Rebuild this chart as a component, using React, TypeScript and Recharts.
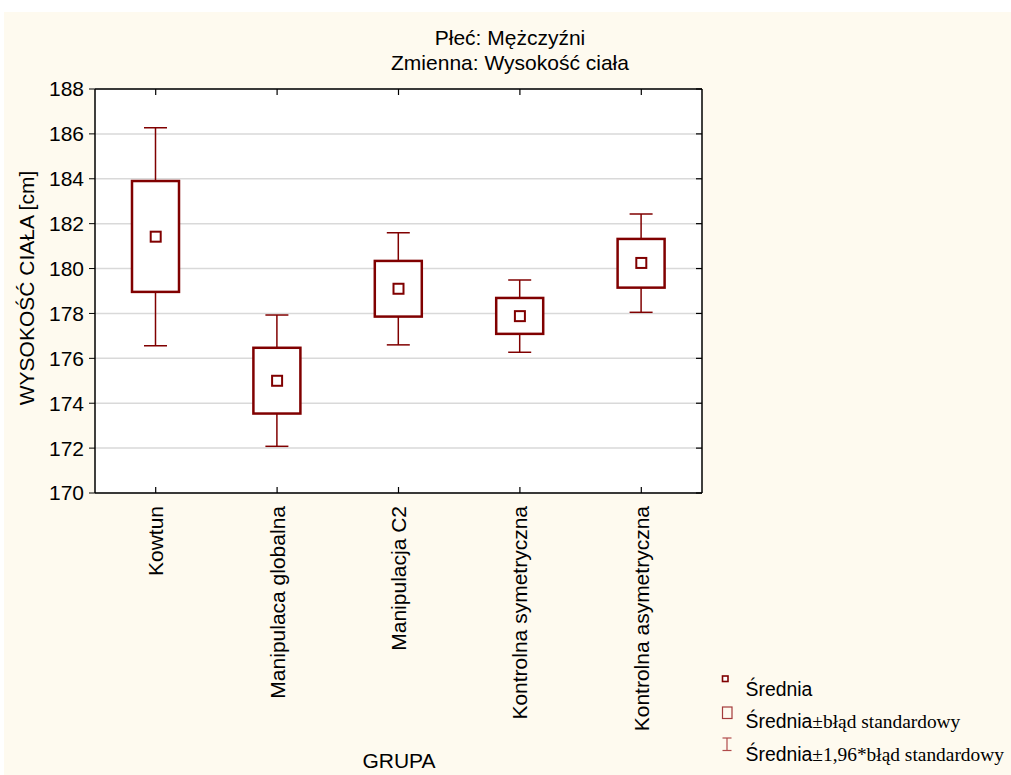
import React from "react";
import {
  ComposedChart,
  Bar,
  Scatter,
  XAxis,
  YAxis,
  CartesianGrid,
} from "recharts";

const categories = [
  "Kowtun",
  "Manipulaca globalna",
  "Manipulacja C2",
  "Kontrolna symetryczna",
  "Kontrolna asymetryczna",
];
const means = [181.42, 175.0, 179.1, 177.88, 180.25];
const seLow = [178.96, 173.54, 177.86, 177.09, 179.15];
const seHigh = [183.9, 176.47, 180.34, 178.69, 181.32];
const ciLow = [176.56, 172.08, 176.6, 176.27, 178.05];
const ciHigh = [186.27, 177.93, 181.6, 179.49, 182.43];
const yTicks = [170, 172, 174, 176, 178, 180, 182, 184, 186, 188];

const titleLines = ["Płeć: Mężczyźni", "Zmienna: Wysokość ciała"];
const yTitle = "WYSOKOŚĆ CIAŁA [cm]";
const xTitle = "GRUPA";

const data = categories.map((name, i) => ({
  name,
  mean: means[i],
  seLow: seLow[i],
  seHigh: seHigh[i],
  ciLow: ciLow[i],
  ciHigh: ciHigh[i],
  range: [ciLow[i], ciHigh[i]],
}));

const RED = "#800000";
const SANS = "'Liberation Sans', Arial, sans-serif";
const SERIF = "'Liberation Serif', 'Times New Roman', serif";
const CREAM = "#FEFAEF";

const BoxShape = (props: any) => {
  const { x, y, width, height, payload } = props;
  if (x == null || y == null || !payload) return null;
  const top = Math.min(y, y + height);
  const bottom = Math.max(y, y + height);
  const hi = payload.ciHigh;
  const lo = payload.ciLow;
  const px = (v: number) => top + ((hi - v) / (hi - lo)) * (bottom - top);
  const cx = x + width / 2;
  const capHalf = 11.5;
  const bTop = px(payload.seHigh);
  const bBot = px(payload.seLow);
  return (
    <g>
      <line x1={cx} x2={cx} y1={top} y2={bottom} stroke={RED} strokeWidth={1.5} />
      <line x1={cx - capHalf} x2={cx + capHalf} y1={top} y2={top} stroke={RED} strokeWidth={1.5} />
      <line x1={cx - capHalf} x2={cx + capHalf} y1={bottom} y2={bottom} stroke={RED} strokeWidth={1.5} />
      <rect
        x={x}
        y={bTop}
        width={width}
        height={bBot - bTop}
        fill="#ffffff"
        stroke={RED}
        strokeWidth={2.5}
      />
    </g>
  );
};

const MeanShape = (props: any) => {
  const { cx, cy } = props;
  if (cx == null || cy == null) return null;
  const s = 10;
  return (
    <rect x={cx - s / 2} y={cy - s / 2} width={s} height={s} fill="#ffffff" stroke={RED} strokeWidth={2} />
  );
};

const BottomTick = (props: any) => {
  const { x, y, payload } = props;
  return (
    <g>
      <line x1={x} x2={x} y1={y} y2={y - 6} stroke="#000" strokeWidth={1.2} />
      <text
        transform={`translate(${x + 7.5},${y + 13}) rotate(-90)`}
        textAnchor="end"
        fontFamily={SANS}
        fontSize={21}
        fill="#000"
      >
        {payload.value}
      </text>
    </g>
  );
};

const TopTick = (props: any) => {
  const { x, y } = props;
  return <line x1={x} x2={x} y1={y} y2={y + 6} stroke="#000" strokeWidth={1.2} />;
};

const RightTick = (props: any) => {
  const { x, y } = props;
  return <line x1={x} x2={x - 6} y1={y} y2={y} stroke="#000" strokeWidth={1.2} />;
};

export default function App() {
  return (
    <div style={{ position: "absolute", left: 0, top: 0, width: 1011, height: 775, background: "#ffffff", overflow: "hidden" }}>
      <div style={{ position: "absolute", left: 4, top: 12, width: 1007, height: 763, background: CREAM }} />
      <div style={{ position: "absolute", left: 0, top: 0 }}>
        <ComposedChart
          width={1011}
          height={775}
          data={data}
          margin={{ top: 88, right: 308, bottom: 82, left: 35 }}
        >
          <CartesianGrid
            horizontal={true}
            vertical={false}
            stroke="#d9d9d9"
            strokeWidth={1.5}
            fill="#ffffff"
            yAxisId="l"
            xAxisId="b"
          />
          <XAxis
            xAxisId="b"
            dataKey="name"
            orientation="bottom"
            height={200}
            axisLine={{ stroke: "#000", strokeWidth: 1.5 }}
            tickLine={false}
            tickSize={0}
            tickMargin={0}
            interval={0}
            tick={<BottomTick />}
          />
          <XAxis
            xAxisId="t"
            dataKey="name"
            orientation="top"
            height={1}
            axisLine={{ stroke: "#000", strokeWidth: 1.5 }}
            tickLine={false}
            tickSize={0}
            tickMargin={0}
            interval={0}
            tick={<TopTick />}
          />
          <YAxis
            yAxisId="l"
            type="number"
            domain={[170, 188]}
            ticks={yTicks}
            interval={0}
            width={60}
            axisLine={{ stroke: "#000", strokeWidth: 1.5 }}
            tickLine={{ stroke: "#000" }}
            tickSize={6}
            tickMargin={5}
            tick={{ fontFamily: SANS, fontSize: 21, fill: "#000" }}
            allowDataOverflow={true}
          />
          <YAxis
            yAxisId="r"
            orientation="right"
            type="number"
            domain={[170, 188]}
            ticks={yTicks}
            interval={0}
            width={1}
            axisLine={{ stroke: "#000", strokeWidth: 1.5 }}
            tickLine={false}
            tickSize={0}
            tickMargin={0}
            tick={<RightTick />}
            allowDataOverflow={true}
          />
          <Bar
            xAxisId="b"
            yAxisId="l"
            dataKey="range"
            barSize={47}
            shape={<BoxShape />}
            isAnimationActive={false}
          />
          <Scatter
            xAxisId="b"
            yAxisId="l"
            dataKey="mean"
            shape={<MeanShape />}
            isAnimationActive={false}
          />
        </ComposedChart>
      </div>
      <svg width={1011} height={775} style={{ position: "absolute", left: 0, top: 0, pointerEvents: "none" }}>
        <text x={510} y={45} textAnchor="middle" fontFamily={SANS} fontSize={21} fill="#000">
          {titleLines[0]}
        </text>
        <text x={510} y={70} textAnchor="middle" fontFamily={SANS} fontSize={21} fill="#000">
          {titleLines[1]}
        </text>
        <text
          transform="translate(34,288) rotate(-90)"
          textAnchor="middle"
          fontFamily={SANS}
          fontSize={21}
          fill="#000"
        >
          {yTitle}
        </text>
        <text x={399} y={768} textAnchor="middle" fontFamily={SANS} fontSize={21} fill="#000">
          {xTitle}
        </text>
        {/* legend */}
        <rect x={722.5} y={676} width={5.5} height={5.5} fill="#ffffff" stroke={RED} strokeWidth={1.6} />
        <text x={745.5} y={696} fontFamily={SANS} fontSize={19.4} fill="#000">
          Średnia
        </text>
        <rect x={722.5} y={707} width={9.5} height={11.5} fill="none" stroke="#a33a3a" strokeWidth={1.2} />
        <text x={745.5} y={728} fontFamily={SANS} fontSize={19.4} fill="#000">
          Średnia<tspan fontFamily={SERIF}>±błąd standardowy</tspan>
        </text>
        <line x1={727} x2={727} y1={738} y2={750.5} stroke="#b04a4a" strokeWidth={1.2} />
        <line x1={722.5} x2={731.5} y1={738} y2={738} stroke="#b04a4a" strokeWidth={1.2} />
        <line x1={722.5} x2={731.5} y1={750.5} y2={750.5} stroke="#b04a4a" strokeWidth={1.2} />
        <text x={745.5} y={761} fontFamily={SANS} fontSize={19.4} fill="#000">
          Średnia<tspan fontFamily={SERIF}>±1,96*błąd standardowy</tspan>
        </text>
      </svg>
    </div>
  );
}
